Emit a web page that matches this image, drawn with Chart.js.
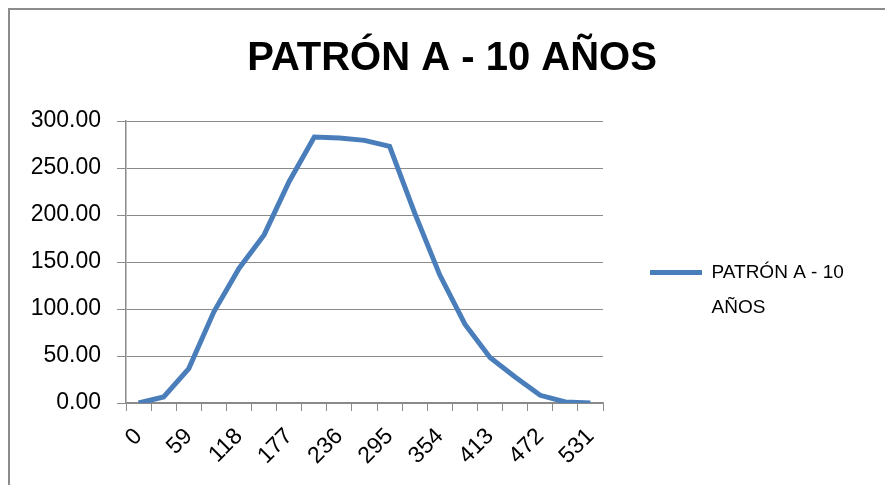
<!DOCTYPE html>
<html>
<head>
<meta charset="utf-8">
<script src="https://cdn.jsdelivr.net/npm/chart.js@4.4.1/dist/chart.umd.min.js"></script>
<style>
  html, body { margin: 0; padding: 0; background: #fff; }
  #wrap { position: relative; width: 885px; height: 485px; overflow: hidden; }
  #frame { position: absolute; left: 8px; top: 8px; width: 900px; height: 500px;
           border-top: 2px solid #8c8c8c; border-left: 2px solid #8c8c8c; }
  #chart { position: absolute; left: 0; top: 0; }
</style>
</head>
<body>
<div id="wrap">
  <div id="frame"></div>
  <canvas id="chart" width="885" height="485"></canvas>
</div>
<script>
// chart data
const chartTitle = "PATRÓN A - 10 AÑOS"
const seriesName = "PATRÓN A - 10 AÑOS"
const legendLines = ["PATRÓN A - 10", "AÑOS"]
const xLabels = [0, 30, 59, 89, 118, 148, 177, 207, 236, 266, 295, 325, 354, 384, 413, 443, 472, 502, 531]
const yValues = [0, 6.4, 36.6, 97, 143.2, 178.8, 235.7, 283, 281.9, 279.4, 273, 202, 136.1, 83.9, 48.3, 27.7, 8.2, 1.1, 0]
const yTicks = [0, 50, 100, 150, 200, 250, 300]

const lineColor = "#4a7ebb"
const gridColor = "#8a8a8a"

// the legend sits in a fixed-width column on the right, like Excel's
const legendWidth = {
  id: "legendWidth",
  beforeInit(chart) {
    const legend = chart.legend
    if (!legend) return
    const fit = legend.fit
    legend.fit = function () {
      fit.call(this)
      this.width = 275
    }
  }
}

const chart = new Chart("chart", {
  type: "line",
  data: {
    labels: xLabels,
    datasets: [{
      label: seriesName,
      data: yValues,
      borderColor: lineColor,
      backgroundColor: lineColor,
      borderWidth: 5,
      pointRadius: 0,
      tension: 0,
    }]
  },
  plugins: [legendWidth],
  options: {
    responsive: false,
    animation: false,
    layout: {padding: {left: 26, right: 7, top: 0, bottom: 0}},
    plugins: {
      title: {
        display: true,
        text: chartTitle,
        color: "#000",
        font: {family: "Liberation Sans", size: 40, weight: "bold"},
        padding: {top: 35, bottom: 38},
      },
      legend: {
        display: true,
        position: "right",
        align: "start",
        // empty title only pushes the entry down next to the middle of the plot
        title: {display: true, text: "", font: {size: 10}, padding: {top: 204, bottom: 0}},
        labels: {
          color: "#000",
          font: {family: "Liberation Sans", size: 19, lineHeight: 1.87},
          boxWidth: 52,
          boxHeight: 5,
          padding: 47,
          // Excel wraps the legend text onto two lines
          generateLabels: c => Chart.defaults.plugins.legend.labels.generateLabels(c).map(item => {
            item.text = legendLines
            item.lineWidth = 0
            return item
          })
        }
      },
      tooltip: {enabled: false},
    },
    scales: {
      x: {
        offset: true,
        grid: {display: true, drawOnChartArea: false, offset: true, tickLength: 8, color: gridColor},
        border: {color: gridColor, width: 1.5},
        afterFit: scale => { scale.height = 82 },
        ticks: {
          autoSkip: false,
          maxRotation: 45,
          minRotation: 45,
          padding: 12,
          color: "#000",
          font: {family: "Liberation Sans", size: 23},
          // only every other category gets a label, as in the original
          callback: (value, index) => index % 2 === 0 ? String(xLabels[index]) : ""
        }
      },
      y: {
        min: yTicks[0],
        max: yTicks[yTicks.length - 1],
        afterFit: scale => { scale.width = 100 },
        afterBuildTicks: scale => { scale.ticks = yTicks.map(v => ({value: v})) },
        grid: {color: gridColor, tickLength: 9},
        border: {color: gridColor, width: 1.5},
        ticks: {
          padding: 16,
          color: "#000",
          font: {family: "Liberation Sans", size: 23},
          callback: value => value.toFixed(2)
        }
      }
    },
  }
})
</script>
</body>
</html>
